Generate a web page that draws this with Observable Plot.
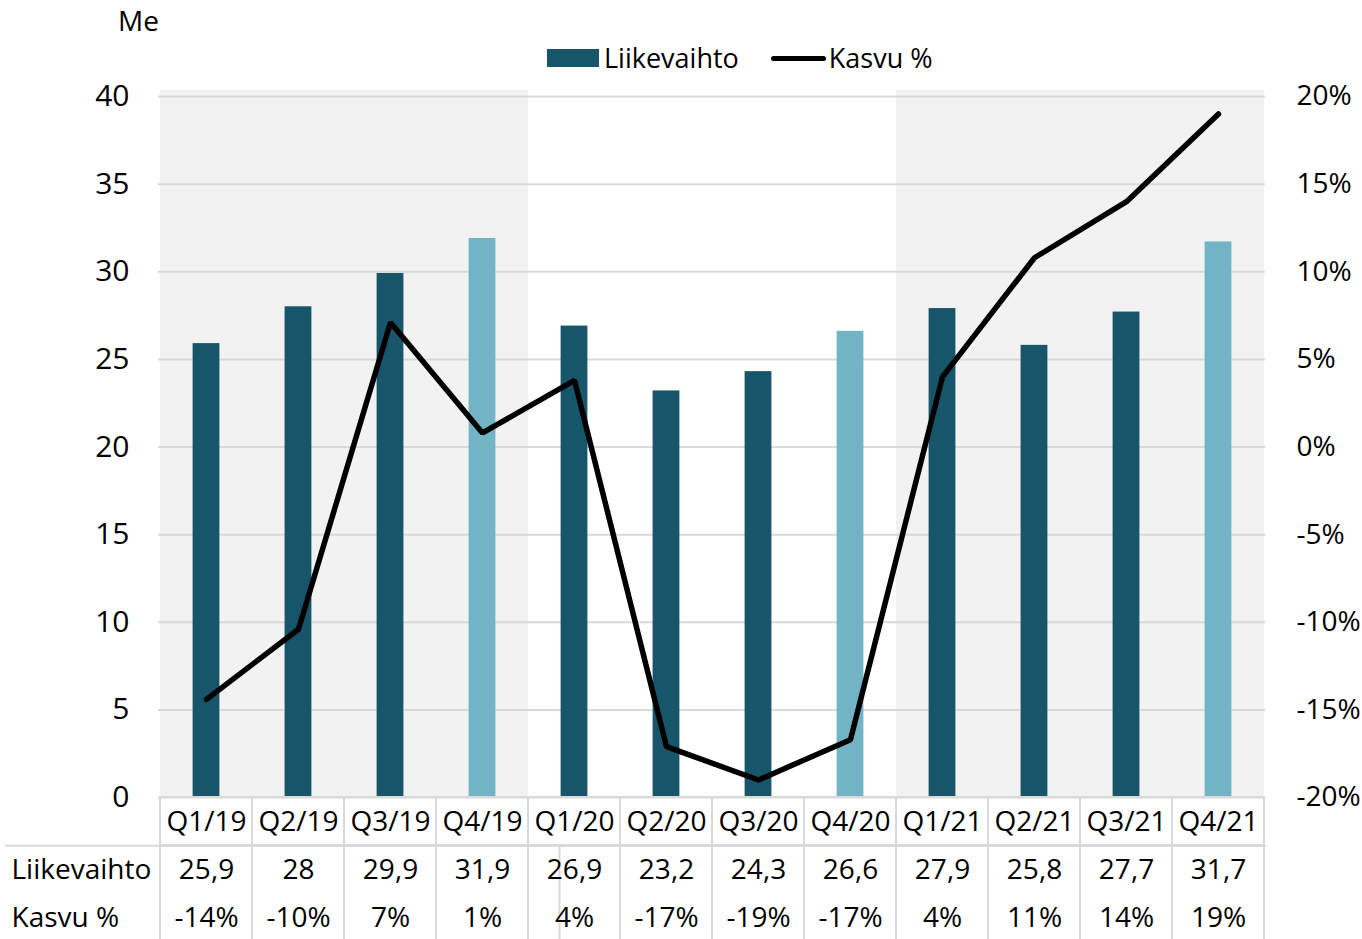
<!DOCTYPE html>
<html>
<head>
<meta charset="utf-8">
<script src="https://cdn.jsdelivr.net/npm/d3@7"></script>
<script src="https://cdn.jsdelivr.net/npm/@observablehq/plot@0.6"></script>
<style>
  html, body { margin: 0; padding: 0; background: #fff; }
  body { width: 1362px; height: 939px; position: relative; overflow: hidden; font-family: "Open Sans", sans-serif; color: #000; }
  #chart { position: absolute; left: 0; top: 0; }
  #table { position: absolute; left: 0; top: 796px; }
  #unit { position: absolute; left: 118px; top: 2px; font-size: 28px; line-height: 36px; }
  #legend { position: absolute; left: 547px; top: 40px; display: flex; align-items: center; font-size: 27px; line-height: 36px; }
  .sw-bar { width: 52px; height: 18px; background: #17566a; margin-right: 5px; }
  .sw-line { width: 55px; height: 5px; background: #000; border-radius: 3px; margin-left: 32px; margin-right: 3px; }
</style>
</head>
<body>
<div id="chart"></div>
<div id="table"></div>
<div id="unit">Me</div>
<div id="legend"><div class="sw-bar"></div><span>Liikevaihto</span><div class="sw-line"></div><span>Kasvu %</span></div>
<script>
// ---- data ----
const quarters = ["Q1/19","Q2/19","Q3/19","Q4/19","Q1/20","Q2/20","Q3/20","Q4/20","Q1/21","Q2/21","Q3/21","Q4/21"];
const liikevaihto = [25.9, 28, 29.9, 31.9, 26.9, 23.2, 24.3, 26.6, 27.9, 25.8, 27.7, 31.7];
const kasvu = [-14.4, -10.4, 7.1, 0.8, 3.8, -17.1, -19.0, -16.7, 4.0, 10.8, 14.0, 19.0]; // % (line)
const liikevaihtoLabels = ["25,9","28","29,9","31,9","26,9","23,2","24,3","26,6","27,9","25,8","27,7","31,7"];
const kasvuLabels = ["-14%","-10%","7%","1%","4%","-17%","-19%","-17%","4%","11%","14%","19%"];
const q4 = ["Q4/19","Q4/20","Q4/21"];
const shaded = ["Q1/19","Q2/19","Q3/19","Q4/19","Q1/21","Q2/21","Q3/21","Q4/21"];
const leftTicks = [0, 5, 10, 15, 20, 25, 30, 35, 40];
const rightTickLabels = ["-20%","-15%","-10%","-5%","0%","5%","10%","15%","20%"];
const rowLabels = ["Liikevaihto", "Kasvu %"];
const rowPos = [1.5, 2.5];
const headerPos = 0.5;
// right axis: -20%..20% maps onto left 0..40 (offset 20)
const rightOffset = 20;

const bars = quarters.map((q, i) => ({q, v: liikevaihto[i], light: q4.includes(q)}));
const line = quarters.map((q, i) => ({q, y: kasvu[i] + rightOffset}));

const chart = Plot.plot({
  width: 1362,
  height: 800,
  marginLeft: 158,
  marginRight: 97,
  marginTop: 96,
  marginBottom: 3,
  style: {fontFamily: "Open Sans", fontSize: "28px", color: "#000", background: "transparent", overflow: "visible"},
  x: {domain: quarters, padding: 0, axis: null},
  y: {domain: [0, 40]},
  marks: [
    Plot.barY(shaded, {x: d => d, y1: 0, y2: 40, fill: "#f2f2f2", insetTop: -6}),
    Plot.gridY(leftTicks, {stroke: "#d9d9d9", strokeOpacity: 1, strokeWidth: 2}),
    Plot.axisY({anchor: "left", ticks: leftTicks, tickSize: 0, tickPadding: 29, fontSize: 30, label: null}),
    Plot.axisY({anchor: "right", ticks: leftTicks, tickFormat: (d, i) => rightTickLabels[i], tickSize: 0, tickPadding: 31, fontSize: 28, label: null}),
    Plot.barY(bars, {x: "q", y: "v", fill: d => d.light ? "#72b3c6" : "#17566a", insetLeft: 32.6, insetRight: 32.6}),
    Plot.line(line, {x: "q", y: "y", stroke: "#000", strokeWidth: 5.5, strokeLinejoin: "miter", strokeLinecap: "round"})
  ]
});
document.getElementById("chart").appendChild(chart);

const table = Plot.plot({
  width: 1362,
  height: 146,
  marginLeft: 158,
  marginRight: 96,
  marginTop: 1,
  marginBottom: 0,
  style: {fontFamily: "Open Sans", fontSize: "28px", color: "#000", background: "transparent", overflow: "visible"},
  x: {domain: quarters, padding: 0, axis: null},
  y: {domain: [0, 3], reverse: true, axis: null},
  marks: [
    Plot.ruleY([1], {stroke: "#d9d9d9", strokeWidth: 2, insetLeft: -153}),
    Plot.ruleX([0], {x: null, frameAnchor: "left", y1: 1, y2: 3, dx: -153, stroke: "#d9d9d9", strokeWidth: 2}),
    Plot.barY(quarters, {x: d => d, y1: 0, y2: 1, fill: "none", stroke: "#d9d9d9", strokeWidth: 2}),
    Plot.barY(quarters, {x: d => d, y1: 1, y2: 3, fill: "none", stroke: "#d9d9d9", strokeWidth: 2}),
    Plot.text(quarters, {x: d => d, y: headerPos, text: d => d, fill: "#000"}),
    Plot.text(quarters, {x: d => d, y: rowPos[0], text: (d, i) => liikevaihtoLabels[i], fill: "#000"}),
    Plot.text(quarters, {x: d => d, y: rowPos[1], text: (d, i) => kasvuLabels[i], fill: "#000"}),
    Plot.text(rowLabels, {y: (d, i) => rowPos[i], text: d => d, frameAnchor: "left", textAnchor: "start", dx: -147, fill: "#000"})
  ]
});
document.getElementById("table").appendChild(table);
</script>
</body>
</html>
